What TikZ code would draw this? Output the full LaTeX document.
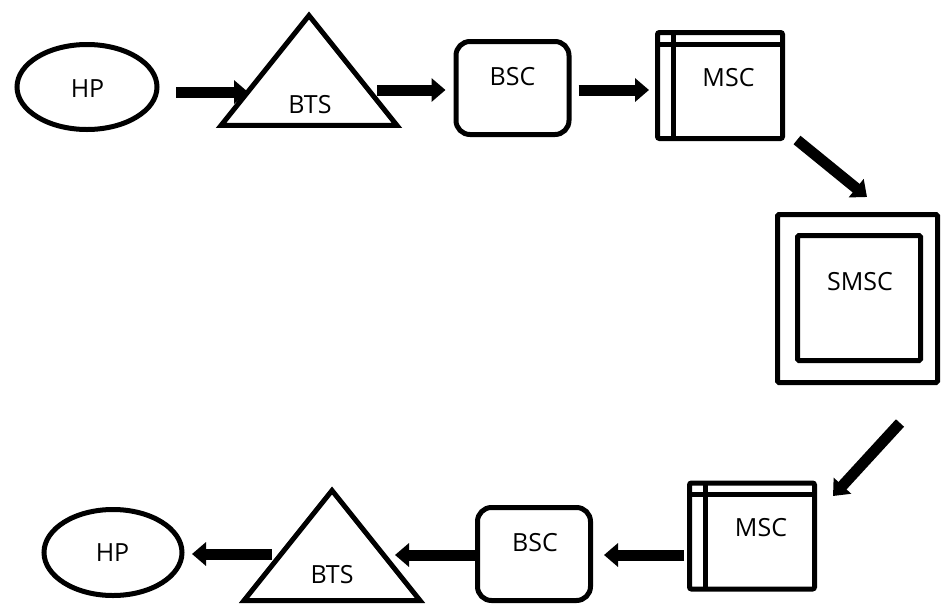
\documentclass[tikz,border=0pt]{standalone}
\usepackage{fontspec}
\setmainfont{Open Sans}
\usetikzlibrary{shapes.geometric,arrows.meta}

\tikzset{
  shapeline/.style={draw=black, line width=5pt, fill=white, inner sep=0pt},
  hpbox/.style={shapeline, ellipse},
  btsbox/.style={shapeline, isosceles triangle, isosceles triangle stretches,
    shape border rotate=90, minimum width=176pt, minimum height=110pt, anchor=south},
  bscbox/.style={shapeline, rectangle, rounded corners=14pt,
    minimum width=113pt, minimum height=93pt},
  mscbox/.style={shapeline, rectangle, rounded corners=2pt,
    minimum width=125pt, minimum height=106pt},
  smscouter/.style={shapeline, rectangle, rounded corners=1.5pt,
    minimum width=160pt, minimum height=168pt},
  smscinner/.style={shapeline, rectangle, rounded corners=1.5pt,
    minimum width=123pt, minimum height=125pt},
  divider/.style={line width=5pt},
  lbl/.style={font=\fontsize{25}{25}\selectfont, inner sep=0pt},
  flow/.style={line width=11pt, -{Triangle[width=23pt,length=14pt]}},
}

\begin{document}
\begin{tikzpicture}[x=1pt, y=-1pt]
\useasboundingbox (0,0) rectangle (943,603);

% upper chain
\node[hpbox, minimum width=140pt, minimum height=85pt] (hp1) at (87,87) {};
\node[lbl] (hp1t) at (87.5,88.5) {HP};

\node[btsbox] (bts1) at (309,128) {};
\node[lbl] (bts1t) at (310,105) {BTS};

\node[bscbox] (bsc1) at (512.5,88) {};
\node[lbl] (bsc1t) at (512.5,77) {BSC};

\node[mscbox] (msc1) at (720,85.5) {};
\draw[divider] ([shift={(2,14)}]msc1.north west) -- ([shift={(-2,14)}]msc1.north east);
\draw[divider] ([shift={(18,2)}]msc1.north west) -- ([shift={(18,-2)}]msc1.south west);
\node[lbl] (msc1t) at (728.5,77.5) {MSC};

% service centre
\node[smscouter] (smsc) at (857.5,298.5) {};
\node[smscinner] (smscin) at (859,298) {};
\node[lbl] (smsct) at (860,282) {SMSC};

% lower chain
\node[mscbox] (msc2) at (752,536) {};
\draw[divider] ([shift={(2,14)}]msc2.north west) -- ([shift={(-2,14)}]msc2.north east);
\draw[divider] ([shift={(18,2)}]msc2.north west) -- ([shift={(18,-2)}]msc2.south west);
\node[lbl] (msc2t) at (761,527.5) {MSC};

\node[bscbox] (bsc2) at (534,554) {};
\node[lbl] (bsc2t) at (535,543) {BSC};

\node[btsbox] (bts2) at (332,603) {};
\node[lbl] (bts2t) at (332,575) {BTS};

\node[hpbox, minimum width=138pt, minimum height=86pt] (hp2) at (113,552.5) {};
\node[lbl] (hp2t) at (112.5,552.5) {HP};

% message flow
\draw[flow] ([shift={(16.5,5)}]hp1.east) -- ([shift={(-61,-36)}]bts1.south);
\draw[flow] ([shift={(68,-38)}]bts1.south) -- ([shift={(-8,2)}]bsc1.west);
\draw[flow] ([shift={(7,2)}]bsc1.east) -- ([shift={(-6,4.5)}]msc1.west);
\draw[flow] ([shift={(12,-1)}]msc1.south east) -- ([shift={(9.5,-15)}]smsc.north);
\draw[flow] ([shift={(42.5,38)}]smsc.south) -- ([shift={(16,15.5)}]msc2.north east);
\draw[flow] ([shift={(-3,19)}]msc2.west) -- ([shift={(11,1)}]bsc2.east);
\draw[flow] ([shift={(0,1)}]bsc2.west) -- ([shift={(63,-48)}]bts2.south);
\draw[flow] ([shift={(-60,-49)}]bts2.south) -- ([shift={(7.5,1.5)}]hp2.east);
\end{tikzpicture}
\end{document}
